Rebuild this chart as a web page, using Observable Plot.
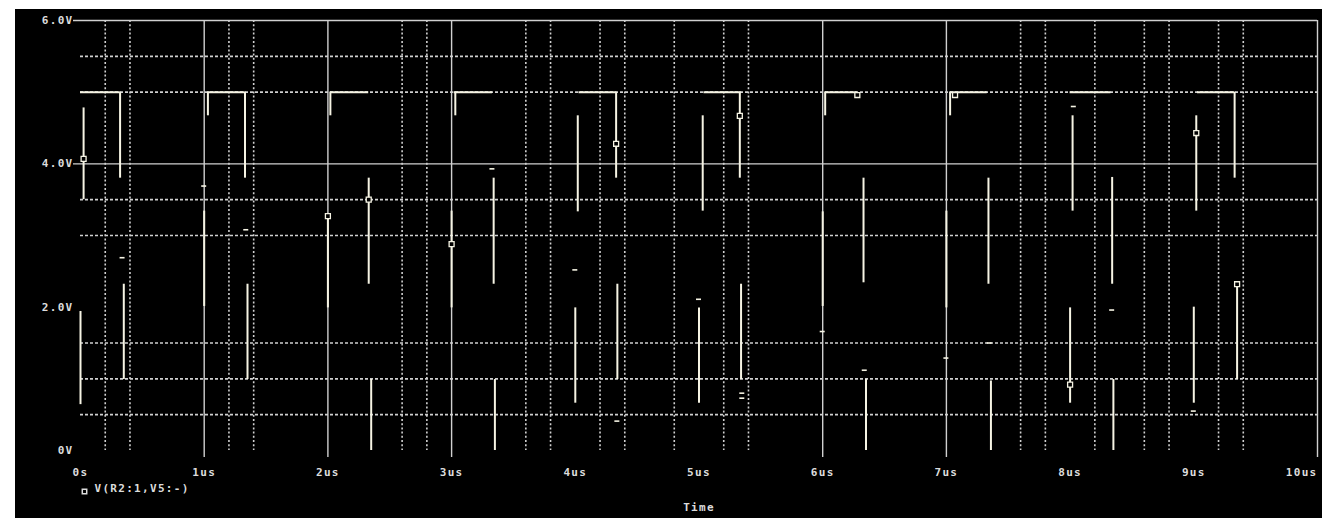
<!DOCTYPE html>
<html><head><meta charset="utf-8">
<script src="https://cdn.jsdelivr.net/npm/d3@7"></script>
<script src="https://cdn.jsdelivr.net/npm/@observablehq/plot@0.6"></script>
<style>
html,body{margin:0;padding:0;background:#fff;width:1322px;height:518px;overflow:hidden}
#chart{position:absolute;left:15px;top:9px;width:1307px;height:509px;background:#000}
#chart svg{display:block}
</style></head>
<body><div id="chart"></div>
<script>
// axis ticks
const xTicks = [0,1,2,3,4,5,6,7,8,9,10];
const xTickLabels = ["0s","1us","2us","3us","4us","5us","6us","7us","8us","9us","10us"];
const yTicks = [0,2,4,6];
const yTickLabels = ["0V","2.0V","4.0V","6.0V"];
const xLabel = "Time";
const seriesName = "V(R2:1,V5:-)";

// grid as drawn in the screenshot
const gridSolidX = [1,2,3,6,7,10];
const gridDotX = [0.2,0.4,1.2,1.4,2.6,2.8,3.6,3.8,4.2,4.4,4.8,5.2,5.4,7.6,7.8,8.2,8.6,8.8,9.2,9.4];
const gridSolidY = [4,6];
const gridDotY = [0.5,1,1.5,3,3.5,5,5.5];

// high level plateaus (us, V)
const highStart = [0.00,1.03,2.02,3.02,4.03,5.04,6.02,7.03,8.00,9.03];
const highEnd   = [0.32,1.33,2.33,3.33,4.33,5.34,6.28,7.33,8.33,9.33];
const highLevel = [5,5,5,5,5,5,5,5,5,5];

// vertical edge fragments (time us, from V, to V)
const edgeTime = [0.32,0.025,0.0,0.35, 1.03,1.0,1.33,1.35, 2.02,2.0,2.33,2.35, 3.03,3.0,3.34,3.35,
                  4.02,4.33,4.0,4.34, 5.03,5.33,5.0,5.34, 6.02,6.0,6.33,6.35, 7.03,7.0,7.34,7.36,
                  8.02,8.0,8.34,8.35, 9.02,9.33,9.0,9.35];
const edgeFrom = [5.0,4.78,1.94,2.32, 5.0,3.34,5.0,2.32, 5.0,3.30,3.80,0.99, 5.0,3.34,3.80,0.99,
                  4.67,5.0,1.99,2.32, 4.67,5.0,1.99,2.32, 5.0,3.33,3.80,0.99, 5.0,3.34,3.80,0.97,
                  4.67,1.99,3.81,0.99, 4.67,5.0,2.0,2.32];
const edgeTo   = [3.80,3.50,0.64,0.99, 4.67,2.01,3.80,0.99, 4.67,1.99,2.32,0.0, 4.67,1.99,2.32,0.0,
                  3.33,3.80,0.66,0.99, 3.34,3.80,0.66,0.99, 4.67,2.01,2.34,0.0, 4.67,1.99,2.32,0.0,
                  3.34,0.66,2.32,0.0, 3.34,3.80,0.66,0.99];

// trace markers
const markTime = [0.025,2.0,2.33,3.0,4.33,5.33,6.28,7.07,8.0,9.02,9.35];
const markVolt = [4.07,3.27,3.50,2.88,4.28,4.67,4.96,4.96,0.92,4.43,2.32];

// short dashes
const dashTime = [0.34,1.0,1.34,3.33,4.0,4.34,5.0,5.35,5.35,6.0,6.34,7.0,7.35,8.03,8.34,9.0];
const dashVolt = [2.69,3.69,3.08,3.93,2.52,0.41,2.11,0.80,0.73,1.66,1.12,1.29,1.50,4.80,1.96,0.55];

const highs = highStart.map((s,i)=>({t1:s,t2:highEnd[i],v:highLevel[i]}));
const edges = edgeTime.map((t,i)=>({t,v1:edgeFrom[i],v2:edgeTo[i]}));
const marks = markTime.map((t,i)=>({t,v:markVolt[i]}));
const dashes = dashTime.map((t,i)=>({t,v:dashVolt[i]}));

const WAVE = "#f6f4e4";
const GRID = "#d0d0d0";
const TXT = "#dcdcdc";
const font = {fontFamily:"DejaVu Sans Mono, monospace", fontSize:11, fontWeight:"bold", fill:TXT};

const xMain = xTicks.slice(0,-1), xLast = xTicks.slice(-1);
const fmtX = d => xTickLabels[xTicks.indexOf(d)];

const chart = Plot.plot({
  width:1307, height:509,
  marginLeft:65, marginRight:5, marginTop:11, marginBottom:68,
  x:{domain:[0,10]}, y:{domain:[0,6]},
  style:{background:"#000", color:TXT, fontFamily:"DejaVu Sans Mono, monospace", fontSize:"11px", letterSpacing:"1.3px"},
  marks:[
    Plot.ruleX(gridDotX, {stroke:GRID, strokeWidth:1.6, strokeDasharray:"2,2.2"}),
    Plot.ruleY(gridDotY, {stroke:GRID, strokeWidth:1.6, strokeDasharray:"3,2"}),
    Plot.ruleX(gridSolidX, {stroke:GRID, strokeWidth:1.4, insetBottom:-7}),
    Plot.ruleY(gridSolidY, {stroke:GRID, strokeWidth:1.4, insetLeft:-7}),
    Plot.ruleY(highs, {y:"v", x1:"t1", x2:"t2", stroke:WAVE, strokeWidth:2}),
    Plot.ruleX(edges, {x:"t", y1:"v1", y2:"v2", stroke:WAVE, strokeWidth:2}),
    Plot.ruleY(dashes, {y:"v", x1:"t", x2:"t", insetLeft:-2.5, insetRight:-2.5, stroke:WAVE, strokeWidth:1.6}),
    Plot.dot(marks, {x:"t", y:"v", symbol:"square", r:2.8, stroke:WAVE, strokeWidth:1.3, fill:"#000"}),
    Plot.axisY(yTicks, {tickSize:0, tickPadding:7, tickFormat:d=>yTickLabels[yTicks.indexOf(d)], label:null, ...font}),
    Plot.axisX(xMain, {tickSize:0, tickPadding:18, tickFormat:fmtX, label:null, ...font}),
    Plot.axisX(xLast, {tickSize:0, tickPadding:18, tickFormat:fmtX, label:null, textAnchor:"end", dx:0, ...font}),
    Plot.text([xLabel], {frameAnchor:"bottom", dy:60, ...font}),
    Plot.dot([seriesName], {frameAnchor:"bottom-left", dx:4, dy:41, symbol:"square", r:2.5, stroke:TXT, fill:"#000"}),
    Plot.text([seriesName], {frameAnchor:"bottom-left", dx:14, dy:41, textAnchor:"start", ...font})
  ]
});
document.getElementById("chart").appendChild(chart);
</script>
</body></html>
